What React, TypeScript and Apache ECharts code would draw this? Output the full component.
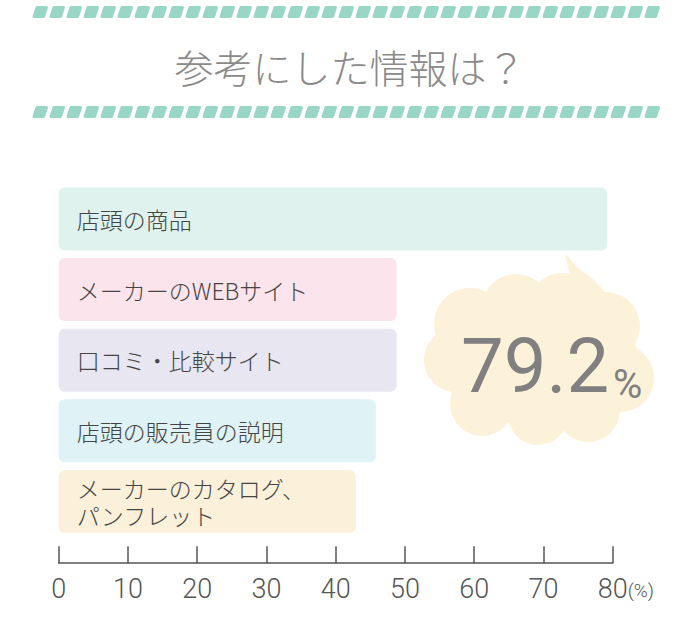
import React, { useEffect, useRef } from "react";
import * as echarts from "echarts";

const TITLE = "参考にした情報は？";
const categories = [
  "店頭の商品",
  "メーカーのWEBサイト",
  "口コミ・比較サイト",
  "店頭の販売員の説明",
  "メーカーのカタログ、\nパンフレット",
];
const values = [79.2, 48.8, 48.8, 45.8, 42.9];
const barColors = ["#dff2ed", "#fce4ec", "#e8e6f0", "#dff2f6", "#fbf1da"];
const xTicks = [0, 10, 20, 30, 40, 50, 60, 70, 80];
const HIGHLIGHT = "79.2";
const HIGHLIGHT_UNIT = "%";
const UNIT_LABEL = "(%)";

const JP = '"Noto Sans CJK JP", "Noto Sans", sans-serif';
const NUM = 'Roboto, "Open Sans", sans-serif';

function stripeRow(y: number) {
  const items: any[] = [];
  const start = 33;
  const end = 665;
  const period = 17;
  const color = "#9ad6c6";
  for (let x = start; x + 13 <= end; x += period) {
    items.push({
      type: "polygon",
      shape: {
        points: [
          [x + 4, y - 4.5],
          [x + 13.5, y - 4.5],
          [x + 10.5, y + 4.5],
          [x + 1, y + 4.5],
        ],
      },
      style: { fill: color, stroke: color, lineWidth: 3, lineJoin: "round" },
      silent: true,
    });
  }
  return items;
}

function cloud() {
  const fill = "#fcf2da";
  const circles = [
    [470, 324, 36],
    [516, 308, 34],
    [562, 306, 33],
    [606, 326, 34],
    [620, 378, 34],
    [588, 410, 32],
    [538, 415, 30],
    [482, 404, 32],
    [456, 360, 32],
  ];
  const els: any[] = [
    {
      type: "ellipse",
      shape: { cx: 540, cy: 364, rx: 100, ry: 62 },
      style: { fill },
      silent: true,
    },
    {
      type: "polygon",
      shape: {
        points: [
          [566, 255],
          [578, 268],
          [594, 280],
          [604, 294],
          [574, 302],
          [571, 280],
        ],
        smooth: 0.3,
      },
      style: { fill },
      silent: true,
    },
  ];
  circles.forEach((c) => {
    els.push({
      type: "circle",
      shape: { cx: c[0], cy: c[1], r: c[2] },
      style: { fill },
      silent: true,
    });
  });
  els.push({
    type: "text",
    x: 461,
    y: 366,
    style: {
      text: HIGHLIGHT,
      font: `400 76px ${NUM}`,
      fill: "#808080",
      textAlign: "left",
      textVerticalAlign: "middle",
    },
    silent: true,
  });
  els.push({
    type: "text",
    x: 613,
    y: 384,
    style: {
      text: HIGHLIGHT_UNIT,
      font: `400 40px ${NUM}`,
      fill: "#808080",
      textAlign: "left",
      textVerticalAlign: "middle",
    },
    silent: true,
  });
  return els;
}

export default function App() {
  const ref = useRef<HTMLDivElement>(null);
  useEffect(() => {
    if (!ref.current) return;
    const chart = echarts.init(ref.current, null, { renderer: "svg" });
    chart.setOption({
      animation: false,
      backgroundColor: "#ffffff",
      title: {
        text: TITLE,
        left: "center",
        top: 41,
        textStyle: {
          fontFamily: JP,
          fontSize: 39,
          fontWeight: 300,
          color: "#8a8a8a",
        },
      },
      grid: { left: 58.7, right: 87.3, top: 183.7, height: 353, containLabel: false },
      xAxis: {
        type: "value",
        min: 0,
        max: 80,
        interval: 10,
        offset: 26.5,
        position: "bottom",
        splitLine: { show: false },
        axisLine: { show: true, lineStyle: { color: "#555555", width: 1.5 } },
        axisTick: {
          show: true,
          inside: true,
          length: 17,
          lineStyle: { color: "#555555", width: 1.5 },
        },
        axisLabel: {
          margin: 12,
          color: "#555555",
          fontFamily: NUM,
          fontSize: 27,
          fontWeight: 300,
          customValues: xTicks,
          formatter: (v: number) =>
            v === xTicks[xTicks.length - 1]
              ? `{sp|${UNIT_LABEL}}${v}{u|${UNIT_LABEL}}`
              : `${v}`,
          rich: {
            sp: { fontSize: 19, color: "rgba(0,0,0,0)", fontFamily: NUM, fontWeight: 300 },
            u: { fontSize: 19, color: "#555555", fontFamily: NUM, fontWeight: 300, padding: [4, 0, 0, 0] },
          },
        },
      },
      yAxis: {
        type: "category",
        inverse: true,
        data: categories,
        show: false,
      },
      series: [
        {
          type: "bar",
          barCategoryGap: "10.8%",
          data: values.map((v, i) => ({
            value: v,
            itemStyle: { color: barColors[i], borderRadius: 6 },
          })),
          label: {
            show: true,
            position: "insideLeft",
            distance: 18,
            formatter: "{b}",
            color: "#444444",
            fontFamily: JP,
            fontSize: 23,
            fontWeight: 300,
            lineHeight: 27,
          },
          silent: true,
        },
      ],
      graphic: [...stripeRow(12), ...stripeRow(112), ...cloud()],
    });
    return () => chart.dispose();
  }, []);
  return (
    <div
      ref={ref}
      style={{ position: "fixed", left: 0, top: 0, width: 700, height: 635 }}
    />
  );
}
